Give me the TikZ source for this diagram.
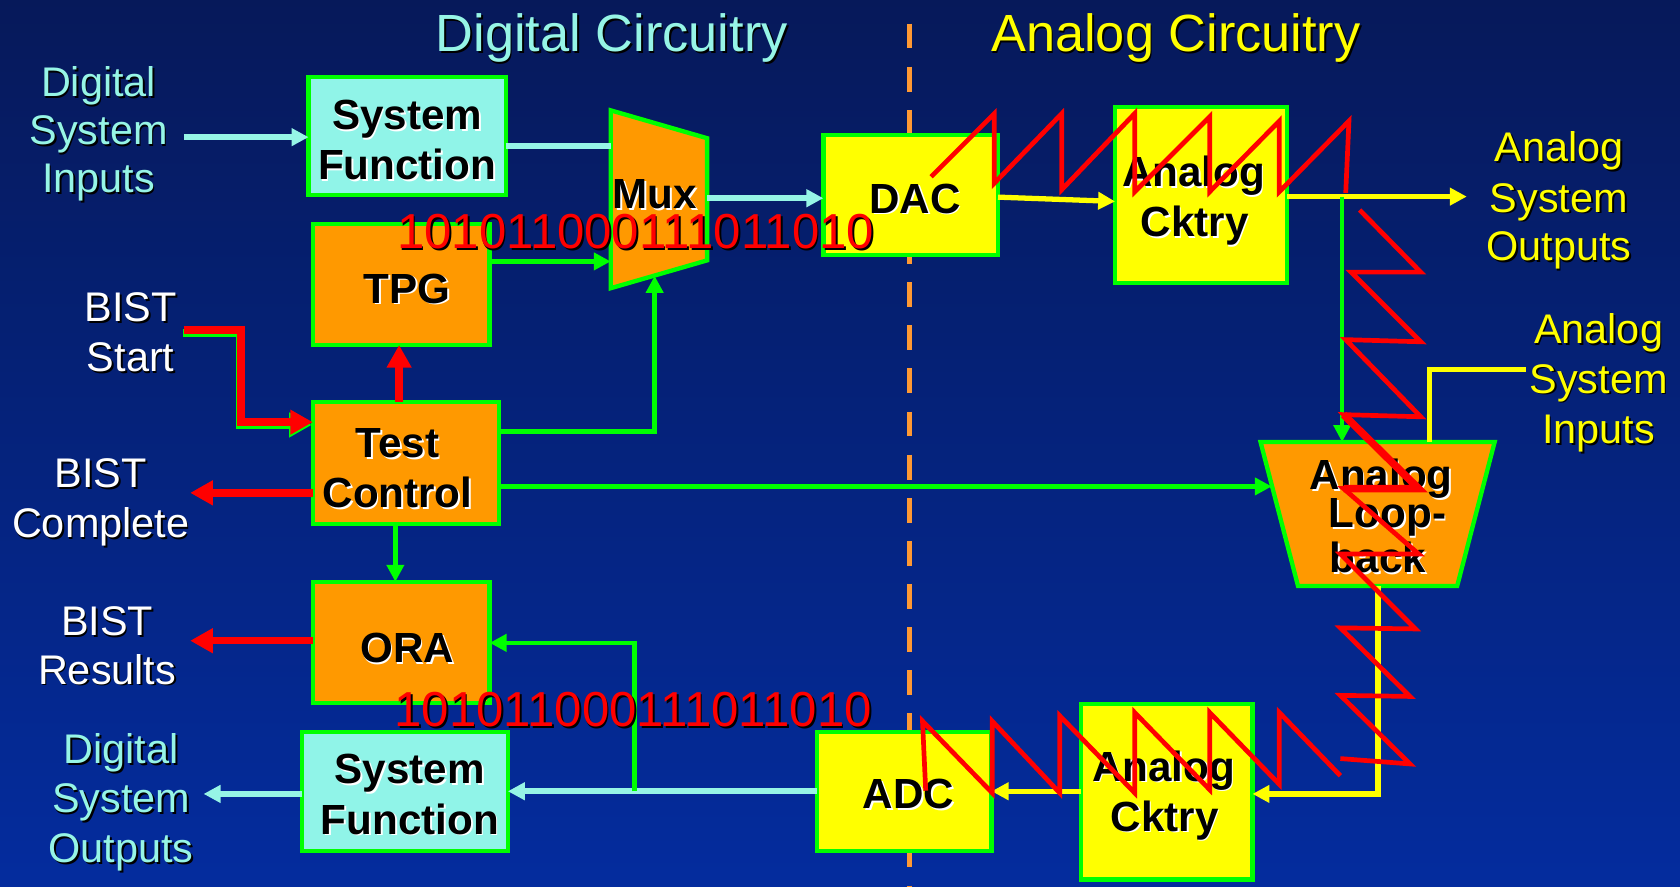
\documentclass[tikz,border=0pt]{standalone}
\usepackage{fontspec}
\setmainfont{Liberation Sans}
\usetikzlibrary{arrows.meta,calc}

\definecolor{bgtop}{HTML}{06195A}
\definecolor{bgbot}{HTML}{042C9E}
\definecolor{aqua}{HTML}{96F5E6}
\definecolor{boxaqua}{HTML}{90F4E8}
\definecolor{orng}{HTML}{FF9900}
\definecolor{yel}{HTML}{FFFF00}
\definecolor{grn}{HTML}{00FF00}
\definecolor{rd}{HTML}{FF0000}
\definecolor{dashor}{HTML}{FF9933}

\def\pxu{0.02cm}

% name, x, y, style, shadow colour, text
\newcommand{\sline}[6]{%
  \node[#4, text=#5, anchor=base, xshift=0.9pt, yshift=-0.9pt] (#1s) at (#2,#3) {#6};
  \node[#4, anchor=base] (#1) at (#2,#3) {#6};}

% name, fill, x, y, width, height
\newcommand{\boxnode}[6]{%
  \node[box, fill=#2, minimum width=#5*\pxu, minimum height=#6*\pxu] (#1) at (#3,#4) {};}

\tikzset{
  title/.style={font=\fontsize{27.8}{33}\selectfont, inner sep=0pt},
  lbl/.style={font=\fontsize{22}{26}\selectfont, inner sep=0pt},
  btxt/.style={font=\fontsize{22.4}{26}\selectfont\bfseries, inner sep=0pt, text=black},
  bits/.style={font=\fontsize{26.1}{30}\selectfont, inner sep=0pt, text=rd},
  box/.style={draw=grn, line width=2.3pt, inner sep=0pt, outer sep=0pt},
  tipthin/.tip={Triangle[length=9pt,width=9pt]},
  carrow/.style={draw=aqua, line width=3pt, -tipthin},
  cline/.style={draw=aqua, line width=3pt},
  garrow/.style={draw=grn, line width=2.5pt, -tipthin},
  gthin/.style={draw=grn, line width=2pt, -tipthin},
  yarrow/.style={draw=yel, line width=2.8pt, -tipthin},
  yline/.style={draw=yel, line width=2.8pt},
  rarrow/.style={draw=rd, line width=4pt, -{Triangle[length=12pt,width=12.5pt]}},
  saw/.style={draw=rd, line width=2.5pt, line join=miter},
}

\begin{document}
\begin{tikzpicture}[x=0.02cm, y=-0.02cm]
% background
\shade[top color=bgtop, bottom color=bgbot] (0,0) rectangle (1568,827);
\useasboundingbox (0,0) rectangle (1568,827);

% divider
\coordinate (dl1) at (849,22);
\coordinate (dl2) at (849,827);
\draw[dashor, line width=2.3pt, dash pattern=on 13.2pt off 9.7pt] (dl1) -- (dl2);

% boxes
\boxnode{sft}{boxaqua}{380}{127}{184}{110}
\boxnode{tpg}{orng}{374.5}{265.5}{165}{113}
\boxnode{tc}{orng}{379}{432}{174}{114}
\boxnode{ora}{orng}{374.5}{599.5}{165}{113}
\boxnode{sfb}{boxaqua}{378}{738.5}{192}{111}
\boxnode{dac}{yel}{850}{182}{163}{112}
\boxnode{ac1}{yel}{1121}{182}{160.5}{164}
\boxnode{adc}{yel}{844}{738.5}{163}{111}
\boxnode{ac2}{yel}{1089}{739}{160}{163.5}

% Mux trapezium
\coordinate (mtl) at (570,103);
\coordinate (mtr) at (660,129);
\coordinate (mbr) at (660,243);
\coordinate (mbl) at (570,269);
\draw[box, fill=orng] (mtl) -- (mtr) -- (mbr) -- (mbl) -- cycle;

% Analog loop-back trapezium
\coordinate (ltl) at (1176.5,412.5);
\coordinate (ltr) at (1395,412.5);
\coordinate (lbr) at (1360,547);
\coordinate (lbl) at (1211.5,547);
\draw[box, fill=orng] (ltl) -- (ltr) -- (lbr) -- (lbl) -- cycle;

% connectors
\coordinate (dsi) at (172,128);
\draw[carrow] (dsi) -- (sft.west |- dsi);
\coordinate (mxa) at (570,136);
\draw[cline] (sft.east |- mxa) -- (mxa);
\coordinate (mxo) at (660,185);
\draw[carrow] (mxo) -- (dac.west |- mxo);
\coordinate (mxc) at (570,244);
\draw[garrow] (tpg.east |- mxc) -- (mxc);
\coordinate (tcm) at (611,403);
\coordinate (mxd) at (611,257.5);
\draw[garrow] (tc.east |- tcm) -- (tcm) -- (mxd);

\coordinate (rupx) at (372.5,376);
\draw[rarrow] (tc.north -| rupx) -- (tpg.south -| rupx);

\coordinate (bs0) at (172,308);
\coordinate (bs1) at (225,308);
\coordinate (bs2) at (225,394);
\draw[draw=grn, line width=4pt, -{Triangle[length=12pt,width=12.5pt]}, transform canvas={xshift=-0.6pt,yshift=-1.5pt}] (bs0) -- (bs1) -- (bs2) -- (tc.west |- bs2);
\draw[rarrow] (bs0) -- (bs1) -- (bs2) -- (tc.west |- bs2);

\coordinate (bc) at (177.5,460);
\draw[rarrow] (tc.west |- bc) -- (bc);
\coordinate (tco) at (369,489);
\draw[garrow] (tc.south -| tco) -- (ora.north -| tco);
\coordinate (br) at (177.5,598);
\draw[rarrow] (ora.west |- br) -- (br);

\coordinate (lbin) at (1187,454);
\draw[garrow] (tc.east |- lbin) -- (lbin);

\coordinate (da1) at (931.5,184);
\coordinate (da2) at (1040.5,188);
\draw[yarrow] (dac.east |- da1) -- (ac1.west |- da2);
\coordinate (aso) at (1369,183.5);
\draw[yarrow] (ac1.east |- aso) -- (aso);

\coordinate (gd) at (1252.6,183.5);
\coordinate (gdl) at (1252.6,412.5);
\draw[gthin] (gd) -- (gdl);

\coordinate (asi) at (1424,345);
\coordinate (asj) at (1334,345);
\coordinate (asl) at (1334,412.5);
\draw[yline] (asi) -- (asj) -- (asl);

\coordinate (lbo) at (1286,547);
\coordinate (lbc) at (1286,741);
\draw[yarrow] (lbo) -- (lbc) -- (ac2.east |- lbc);
\draw[yarrow] (ac2.west |- adc.east) -- (adc.east);
\draw[carrow] (adc.west) -- (sfb.east |- adc.west);
\coordinate (gb0) at (592.4,738.5);
\coordinate (gb1) at (592.4,600);
\draw[garrow] (gb0) -- (gb1) -- (ora.east |- gb1);
\coordinate (dso) at (190,741);
\draw[carrow] (sfb.west |- dso) -- (dso);

% box texts
\sline{sfta}{380}{121}{btxt}{white}{System}
\sline{sftb}{380}{168}{btxt}{white}{Function}
\sline{mux}{611}{194.5}{btxt}{white}{Mux}
\sline{tpgt}{380}{283}{btxt}{white}{TPG}
\sline{tca}{371}{427}{btxt}{white}{Test}
\sline{tcb}{371}{474}{btxt}{white}{Control}
\sline{orat}{380}{618.5}{btxt}{white}{ORA}
\sline{sfba}{382.5}{731.5}{btxt}{white}{System}
\sline{sfbb}{382.5}{778.5}{btxt}{white}{Function}
\sline{dact}{854}{199}{btxt}{white}{DAC}
\sline{aca}{1114}{174}{btxt}{white}{Analog}
\sline{acb}{1115}{221}{btxt}{white}{Cktry}
\sline{adct}{848}{755}{btxt}{white}{ADC}
\sline{acc}{1086}{729}{btxt}{white}{Analog}
\sline{acd}{1087}{775.6}{btxt}{white}{Cktry}
\sline{lba}{1289}{456.7}{btxt}{white}{Analog}
\sline{lbb}{1295}{492.5}{btxt}{white}{Loop-}
\sline{lbc}{1286}{534.5}{btxt}{white}{back}

% titles and labels
\sline{dig}{571}{48}{title, text=aqua}{black}{Digital Circuitry}
\sline{ana}{1097.5}{48}{title, text=yel}{black}{Analog Circuitry}
\sline{dsia}{92}{90}{lbl, text=aqua}{black}{Digital}
\sline{dsib}{92}{135}{lbl, text=aqua}{black}{System}
\sline{dsic}{92}{180}{lbl, text=aqua}{black}{Inputs}
\sline{bsa}{122}{300}{lbl, text=white}{black}{BIST}
\sline{bsb}{122}{347}{lbl, text=white}{black}{Start}
\sline{bca}{94}{455}{lbl, text=white}{black}{BIST}
\sline{bcb}{94}{502}{lbl, text=white}{black}{Complete}
\sline{bra}{100}{593}{lbl, text=white}{black}{BIST}
\sline{brb}{100}{638.5}{lbl, text=white}{black}{Results}
\sline{dsoa}{113}{713}{lbl, text=aqua}{black}{Digital}
\sline{dsob}{113}{758.5}{lbl, text=aqua}{black}{System}
\sline{dsoc}{113}{805}{lbl, text=aqua}{black}{Outputs}
\sline{asoa}{1455}{151}{lbl, text=yel}{black}{Analog}
\sline{asob}{1455}{198}{lbl, text=yel}{black}{System}
\sline{asoc}{1455}{243}{lbl, text=yel}{black}{Outputs}
\sline{asia}{1492}{320.5}{lbl, text=yel}{black}{Analog}
\sline{asib}{1492}{367}{lbl, text=yel}{black}{System}
\sline{asic}{1492}{414}{lbl, text=yel}{black}{Inputs}

% bit streams
\sline{bitsa}{593.3}{231.8}{bits}{black}{101011000111011010}
\sline{bitsb}{591}{678}{bits}{black}{101011000111011010}

% analog waveforms
\draw[saw] (869,165) -- (928,106) -- (928,171) -- (991,106) -- (991,177) -- (1059,106) -- (1059,179) -- (1129,109) -- (1129,179) -- (1194,113) -- (1194,179) -- (1259,113) -- (1256,180);
\draw[saw] (1269,196) -- (1326,254) -- (1261,254) -- (1326,319) -- (1256,317) -- (1326,389) -- (1254,387) -- (1324,456) -- (1254,456) -- (1324,517) -- (1251,517) -- (1321,587) -- (1251,586) -- (1316,650) -- (1251,649) -- (1316,713) -- (1251,708);
\draw[saw, line width=4pt] (1254,387) -- (1324,456) -- (1254,456);
\draw[saw] (1251,724) -- (1194,665) -- (1194,732) -- (1129,665) -- (1129,737) -- (1059,665) -- (1059,740) -- (989,668) -- (989,740) -- (926,673) -- (926,740) -- (861,673) -- (864,738);
\end{tikzpicture}
\end{document}
